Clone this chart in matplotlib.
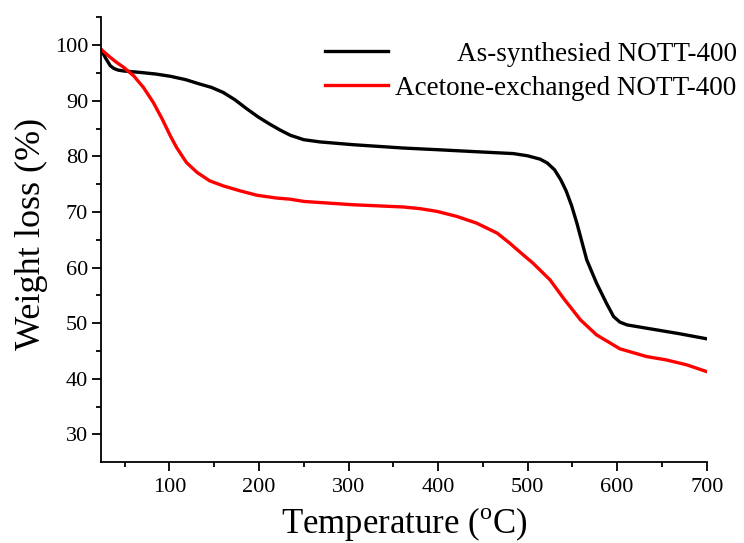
import matplotlib
matplotlib.use("Agg")
import matplotlib.pyplot as plt
from matplotlib.ticker import MultipleLocator

plt.rcParams["font.family"] = ["Liberation Serif", "DejaVu Serif"]
plt.rcParams["mathtext.fontset"] = "custom"
plt.rcParams["mathtext.rm"] = "Liberation Serif"

# TGA curves: temperature (deg C) and remaining weight (%)
temp_as = [24, 29, 34, 38, 43, 49, 67, 85, 101, 118, 134, 147, 160, 173, 186,
           199, 212, 224, 235, 250, 268, 305, 361, 399, 447, 484, 500, 514,
           522, 530, 537, 543, 549, 555, 566, 577, 588, 596, 603, 611, 633,
           670, 700]
weight_as = [99.1, 97.6, 96.3, 95.8, 95.5, 95.35, 95.1, 94.8, 94.4, 93.8,
             93.0, 92.4, 91.5, 90.2, 88.6, 87.1, 85.8, 84.7, 83.8, 83.0, 82.6,
             82.1, 81.5, 81.2, 80.8, 80.5, 80.1, 79.5, 78.8, 77.6, 75.8, 73.8,
             71.2, 68.0, 61.4, 57.2, 53.6, 51.2, 50.2, 49.7, 49.1, 48.1, 47.2]

temp_ac = [24, 34, 41, 49, 60, 71, 82, 92, 101, 108, 119, 131, 145, 160, 179,
           198, 220, 235, 250, 305, 361, 380, 399, 421, 443, 466, 480, 490, 495,
           506, 525, 540, 559, 577, 603, 633, 655, 678, 700]
weight_ac = [99.2, 97.8, 96.9, 96.0, 94.5, 92.4, 89.7, 86.7, 83.7, 81.6, 78.9,
             77.1, 75.6, 74.7, 73.8, 73.0, 72.5, 72.3, 71.9, 71.3, 70.9, 70.6,
             70.1, 69.2, 68.0, 66.2, 64.4, 63.0, 62.3, 60.8, 57.8, 54.5, 50.6,
             47.9, 45.4, 44.0, 43.4, 42.5, 41.3]

labels = ["As-synthesied NOTT-400", "Acetone-exchanged NOTT-400"]

fig = plt.figure(figsize=(7.44, 5.43), dpi=100)
ax = fig.add_axes([0.1362, 0.1497, 0.8137, 0.8184])

ax.plot(temp_as, weight_as, color="black", lw=2.4, label=labels[0])
ax.plot(temp_ac, weight_ac, color="#ff0000", lw=2.4, label=labels[1])

ax.set_xlim(24, 700)
ax.set_ylim(25.1, 105)
ax.xaxis.set_major_locator(MultipleLocator(100))
ax.xaxis.set_minor_locator(MultipleLocator(50))
ax.yaxis.set_major_locator(MultipleLocator(10))
ax.yaxis.set_minor_locator(MultipleLocator(5))
ax.set_yticks(range(30, 101, 10))

for s in ("top", "right"):
    ax.spines[s].set_visible(False)
for s in ("left", "bottom"):
    ax.spines[s].set_linewidth(1.3)

ax.tick_params(which="major", direction="out", length=6.5, width=1.3,
               labelsize=16, pad=3)
ax.tick_params(axis="x", which="major", pad=5)
ax.tick_params(which="minor", direction="out", length=3.6, width=1.3)

ax.set_xlabel("Temperature ($^{\\mathrm{o}}$C)", fontsize=25, labelpad=6)
ax.set_ylabel("Weight loss (%)", fontsize=26, labelpad=5)
ax.yaxis.label.set_y(0.513)

leg = ax.legend(loc="upper right", bbox_to_anchor=(0.9902, 0.9227),
                bbox_transform=fig.transFigure, frameon=False, fontsize=19.5,
                handlelength=2.33, handletextpad=0.26, labelspacing=0.32,
                borderpad=0, borderaxespad=0)

# right-align the legend texts while keeping the line samples on the left
renderer = fig.canvas.get_renderer()
widths = [t.get_window_extent(renderer).width for t in leg.get_texts()]
rows = leg._legend_handle_box.get_children()[0].get_children()
for row, w in zip(rows, widths):
    row.sep += (max(widths) - w) * 72.0 / fig.dpi

fig.savefig("out.png", dpi=100)
